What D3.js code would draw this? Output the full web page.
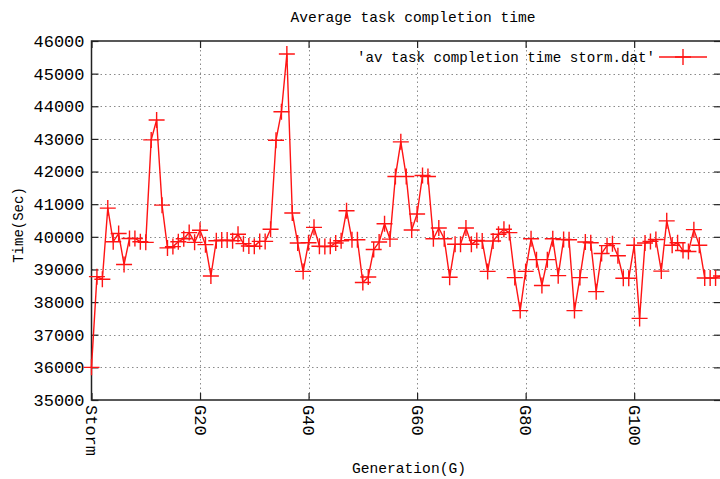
<!DOCTYPE html>
<html>
<head>
<meta charset="utf-8">
<script src="https://cdn.jsdelivr.net/npm/d3@7"></script>
<style>
  html, body { margin: 0; padding: 0; background: #fff; }
  svg { display: block; }
  text { font-family: "Liberation Mono", "DejaVu Sans Mono", monospace; fill: #000; }
</style>
</head>
<body>
<svg id="chart" width="720" height="479"></svg>
<script>
// Average task completion time per generation (index 0 = Storm, then G1..G116)
const completionTime = [
  36000, 38780, 38700, 40880, 39850, 40100, 39150, 39950, 39950, 39850,
  39830, 42970, 43580, 40970, 39660, 39700, 39850, 39940, 40130, 39830,
  40200, 39760, 38800, 39880, 39900, 39900, 39880, 40080, 39790, 39720,
  39710, 39860, 39860, 40230, 42960, 43830, 45600, 40730, 39810, 38940,
  39820, 40290, 39710, 39700, 39710, 39810, 39880, 40800, 39910, 39910,
  38600, 38770, 39610, 39840, 40400, 39930, 41850, 42910, 41850, 40210,
  40700, 41880, 41850, 39940, 40270, 39940, 38760, 39770, 39770, 40270,
  39770, 39890, 39870, 38940, 39870, 40080, 40230, 40130, 38750, 37740,
  38940, 39940, 39300, 38510, 39300, 39940, 38810, 39920, 39910, 37740,
  38750, 39840, 39820, 38320, 39490, 39730, 39790, 39420, 38730, 38730,
  39740, 37500, 39810, 39860, 39920, 38950, 40490, 39740, 39820, 39580,
  39550, 40220, 39740, 38740, 38740, 38740, 38800
];

// Labelled generations on the x axis
const xTickIndex = [0, 20, 40, 60, 80, 100];
const xTickLabels = ["Storm", "G20", "G40", "G60", "G80", "G100"];

// Value axis ticks
const yTicks = [35000, 36000, 37000, 38000, 39000, 40000, 41000, 42000, 43000, 44000, 45000, 46000];

const titleText = "Average task completion time";
const xTitle = "Generation(G)";
const yTitle = "Time(Sec)";
const legendLabel = "'av task completion time storm.dat'";

const svg = d3.select("#chart");
const plotL = 91.5, plotR = 721, plotT = 41, plotB = 400;

const x = d3.scaleLinear().domain([0, completionTime.length - 1]).range([plotL, plotR]);
const y = d3.scaleLinear().domain([35000, 46000]).range([plotB, plotT]);

const red = "#ff1414";

// Dotted grid
const grid = svg.append("g").attr("stroke", "#8a8a8a").attr("stroke-width", 1)
  .attr("stroke-dasharray", "1.5,3");
grid.selectAll("line.h").data(yTicks.filter(v => v > 35000 && v < 46000)).join("line")
  .attr("x1", plotL).attr("x2", plotR)
  .attr("y1", d => Math.round(y(d)) + 0.5).attr("y2", d => Math.round(y(d)) + 0.5);
grid.selectAll("line.v").data(xTickIndex.filter(i => i > 0)).join("line")
  .attr("y1", plotT).attr("y2", plotB)
  .attr("x1", d => Math.round(x(d)) + 0.5).attr("x2", d => Math.round(x(d)) + 0.5);

// Axes drawn with inward ticks on all four sides
const tickLen = 7;
const tickFont = "17px";
const axLeft = d3.axisLeft(y).tickValues(yTicks).tickSizeInner(-tickLen).tickSizeOuter(0)
  .tickPadding(7).tickFormat(d3.format("d"));
const gL = svg.append("g").attr("transform", `translate(${plotL},0)`).call(axLeft);
gL.selectAll("text").style("font-size", tickFont)
  .style("font-family", '"Liberation Mono", monospace');

const axRight = d3.axisRight(y).tickValues(yTicks).tickSizeInner(-tickLen).tickSizeOuter(0).tickFormat("");
svg.append("g").attr("transform", `translate(${plotR},0)`).call(axRight);

const axBottom = d3.axisBottom(x).tickValues(xTickIndex).tickSizeInner(-tickLen).tickSizeOuter(0)
  .tickFormat((d, i) => xTickLabels[i]);
const gB = svg.append("g").attr("transform", `translate(0,${plotB})`).call(axBottom);
gB.selectAll("text")
  .style("font-size", tickFont)
  .style("font-family", '"Liberation Mono", monospace')
  .attr("text-anchor", "start")
  .attr("transform", "rotate(90)")
  .attr("x", 5).attr("y", 0).attr("dy", "0.35em");

const axTop = d3.axisTop(x).tickValues(xTickIndex).tickSizeInner(-tickLen).tickSizeOuter(0).tickFormat("");
svg.append("g").attr("transform", `translate(0,${plotT})`).call(axTop);

svg.selectAll(".domain").remove();
svg.selectAll(".tick line").attr("stroke", "#222").attr("stroke-width", 1.2);

// Plot border
svg.append("rect").attr("x", plotL).attr("y", plotT)
  .attr("width", plotR - plotL).attr("height", plotB - plotT)
  .attr("fill", "none").attr("stroke", "#222").attr("stroke-width", 1.5);

// Data line with cross markers
const line = d3.line().x((d, i) => x(i)).y(d => y(d));
const plot = svg.append("g");
plot.append("path").datum(completionTime)
  .attr("d", line).attr("fill", "none")
  .attr("stroke", red).attr("stroke-width", 1.4).attr("stroke-linejoin", "round");

const cs = 8;
const cross = (px, py) => `M${px - cs},${py}H${px + cs}M${px},${py - cs}V${py + cs}`;
plot.append("path")
  .attr("d", completionTime.map((d, i) => cross(x(i), y(d))).join(""))
  .attr("fill", "none").attr("stroke", red).attr("stroke-width", 1.4);

// Legend
const legY = 57;
svg.append("text").attr("x", 655).attr("y", legY).attr("dy", "0.35em")
  .attr("text-anchor", "end").style("font-size", "14.2px").text(legendLabel);
svg.append("line").attr("x1", 659).attr("x2", 707).attr("y1", legY).attr("y2", legY)
  .attr("stroke", red).attr("stroke-width", 1.4);
svg.append("path").attr("d", cross(683, legY)).attr("stroke", red).attr("stroke-width", 1.4);

// Titles
svg.append("text").attr("x", 413).attr("y", 17).attr("dy", "0.35em")
  .attr("text-anchor", "middle").style("font-size", "14.6px").text(titleText);
svg.append("text").attr("x", 409).attr("y", 468).attr("dy", "0.35em")
  .attr("text-anchor", "middle").style("font-size", "14.6px").text(xTitle);
svg.append("text").attr("transform", "translate(18,225) rotate(-90)").attr("dy", "0.35em")
  .attr("text-anchor", "middle").style("font-size", "14px").text(yTitle);
</script>
</body>
</html>
